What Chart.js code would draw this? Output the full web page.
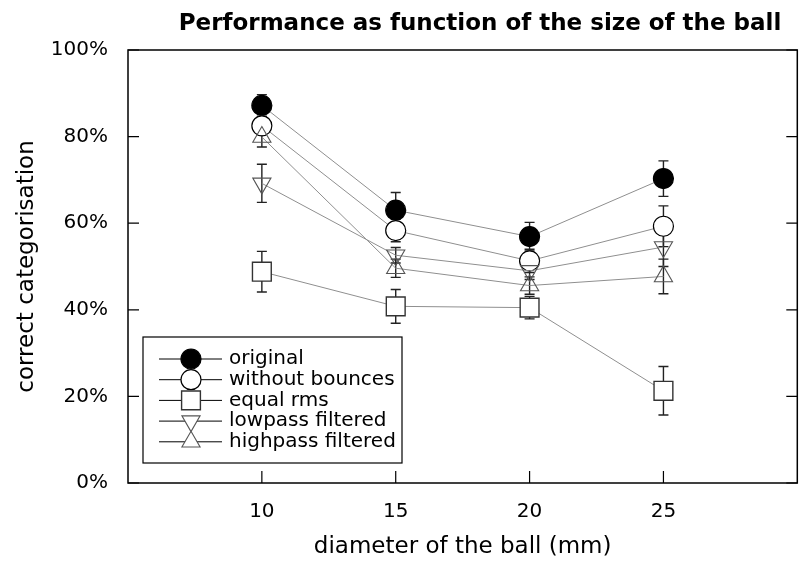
<!DOCTYPE html>
<html><head><meta charset="utf-8">
<script src="https://cdn.jsdelivr.net/npm/chart.js@4.4.0/dist/chart.umd.min.js"></script>
<style>
html,body{margin:0;padding:0;background:#fff;overflow:hidden;}
#wrap{width:800px;height:562px;overflow:hidden;position:relative;background:#fff;}
canvas{display:block;}
</style>
</head><body>
<div id="wrap"><canvas id="c" width="812" height="562"></canvas></div>
<script>
// ---- data ----
const diameters = [10, 15, 20, 25];
const xTickValues = [10, 15, 20, 25];
const yTickValues = [0, 20, 40, 60, 80, 100];
const seriesNames = ['original', 'without bounces', 'equal rms', 'lowpass filtered', 'highpass filtered'];
const original = [87.2, 63.0, 56.9, 70.3];
const originalErr = [2.5, 4.1, 3.3, 4.1];
const withoutBounces = [82.5, 58.3, 51.3, 59.3];
const withoutBouncesErr = [2.0, 2.6, 2.7, 4.7];
const equalRms = [48.8, 40.8, 40.5, 21.3];
const equalRmsErr = [4.7, 3.9, 2.6, 5.6];
const lowpass = [69.2, 52.6, 49.0, 54.5];
const lowpassErr = [4.4, 1.8, 2.0, 4.5];
const highpass = [79.9, 49.6, 45.6, 47.7];
const highpassErr = [2.3, 2.1, 2.0, 4.0];
const titleText = 'Performance as function of the size of the ball';
const xTitle = 'diameter of the ball (mm)';
const yTitle = 'correct categorisation';

const values = [original, withoutBounces, equalRms, lowpass, highpass];
const errors = [originalErr, withoutBouncesErr, equalRmsErr, lowpassErr, highpassErr];

// ---- styles ----
const FAM = '"DejaVu Sans", sans-serif';
const markerStyles = [
  {pointStyle: 'circle', radius: 10, fill: '#000', stroke: '#000', bw: 1.2, rot: 0},
  {pointStyle: 'circle', radius: 10, fill: '#fff', stroke: '#000', bw: 1.2, rot: 0},
  {pointStyle: 'rect', radius: 13.3, fill: '#fff', stroke: '#333', bw: 1.4, rot: 0},
  {pointStyle: 'triangle', radius: 10.5, fill: 'rgba(0,0,0,0)', stroke: '#555', bw: 1.1, rot: 180},
  {pointStyle: 'triangle', radius: 10.5, fill: 'rgba(0,0,0,0)', stroke: '#555', bw: 1.1, rot: 0}
];

const datasets = seriesNames.map((name, i) => ({
  label: name,
  data: diameters.map((d, j) => ({x: d, y: values[i][j]})),
  errs: errors[i],
  borderColor: '#8f8f8f',
  borderWidth: 1,
  tension: 0,
  fill: false,
  pointStyle: markerStyles[i].pointStyle,
  pointRadius: markerStyles[i].radius,
  pointHoverRadius: markerStyles[i].radius,
  pointBackgroundColor: markerStyles[i].fill,
  pointBorderColor: markerStyles[i].stroke,
  pointBorderWidth: markerStyles[i].bw,
  pointRotation: markerStyles[i].rot,
  order: seriesNames.length - 1 - i
}));

const errorBars = {
  id: 'errorBars',
  beforeDatasetsDraw(chart) {
    const ctx = chart.ctx, xs = chart.scales.x, ys = chart.scales.y;
    ctx.save();
    ctx.strokeStyle = '#222';
    ctx.lineWidth = 1.4;
    chart.data.datasets.forEach(ds => {
      ds.data.forEach((p, j) => {
        const e = ds.errs[j];
        const x = xs.getPixelForValue(p.x);
        const y1 = ys.getPixelForValue(p.y + e);
        const y2 = ys.getPixelForValue(p.y - e);
        ctx.beginPath();
        ctx.moveTo(x, y1); ctx.lineTo(x, y2);
        ctx.moveTo(x - 5, y1); ctx.lineTo(x + 5, y1);
        ctx.moveTo(x - 5, y2); ctx.lineTo(x + 5, y2);
        ctx.stroke();
      });
    });
    ctx.restore();
  }
};

const frame = {
  id: 'frame',
  afterDraw(chart) {
    const ctx = chart.ctx, a = chart.chartArea, xs = chart.scales.x, ys = chart.scales.y;
    ctx.save();
    ctx.strokeStyle = '#000';
    ctx.lineWidth = 1.5;
    ctx.strokeRect(a.left, a.top, a.right - a.left, a.bottom - a.top);
    ctx.lineWidth = 1.2;
    ctx.beginPath();
    yTickValues.forEach(v => {
      const y = ys.getPixelForValue(v);
      ctx.moveTo(a.left, y); ctx.lineTo(a.left + 11, y);
      ctx.moveTo(a.right, y); ctx.lineTo(a.right - 11, y);
    });
    xTickValues.forEach(v => {
      const x = xs.getPixelForValue(v);
      ctx.moveTo(x, a.bottom); ctx.lineTo(x, a.bottom - 12);
    });
    ctx.stroke();

    // title
    ctx.fillStyle = '#000';
    ctx.font = 'bold 23px ' + FAM;
    ctx.textAlign = 'center';
    ctx.textBaseline = 'alphabetic';
    ctx.fillText(titleText, 480, 30);

    // legend
    const bx = a.left + 15, by = a.top + 287, bw = 259, bh = 126;
    ctx.lineWidth = 1.2;
    ctx.strokeStyle = '#000';
    ctx.strokeRect(bx, by, bw, bh);
    ctx.font = '20px ' + FAM;
    ctx.textAlign = 'left';
    ctx.textBaseline = 'middle';
    chart.data.datasets.forEach((ds, i) => {
      const ry = by + 22 + i * 20.7;
      ctx.strokeStyle = '#000';
      ctx.lineWidth = 1;
      ctx.beginPath();
      ctx.moveTo(bx + 16, ry); ctx.lineTo(bx + 79, ry);
      ctx.stroke();
      const m = markerStyles[i];
      ctx.fillStyle = m.fill === 'rgba(0,0,0,0)' ? '#fff' : m.fill;
      ctx.strokeStyle = m.stroke;
      ctx.lineWidth = m.bw;
      Chart.helpers.drawPoint(ctx, {pointStyle: m.pointStyle, radius: m.radius, rotation: m.rot, borderWidth: m.bw}, bx + 48, ry);
      ctx.fillStyle = '#000';
      ctx.fillText(ds.label, bx + 86, ry);
    });
    ctx.restore();
  }
};

new Chart(document.getElementById('c'), {
  type: 'line',
  data: {datasets},
  options: {
    responsive: false,
    animation: false,
    layout: {padding: {left: 0, right: 2, top: 50, bottom: 0}},
    plugins: {legend: {display: false}, tooltip: {enabled: false}, title: {display: false}},
    scales: {
      x: {
        type: 'linear', min: 5, max: 30,
        afterBuildTicks: s => { s.ticks = xTickValues.map(v => ({value: v})); },
        afterFit: s => { s.height = 79; },
        grid: {display: false, drawTicks: false},
        border: {display: false},
        ticks: {padding: 17, color: '#000', font: {family: FAM, size: 20}, maxRotation: 0, autoSkip: false,
                callback: v => String(v)},
        title: {display: true, text: xTitle, color: '#000', font: {family: FAM, size: 23}, padding: {top: 0, bottom: 1}}
      },
      y: {
        type: 'linear', min: 0, max: 100,
        afterBuildTicks: s => { s.ticks = yTickValues.map(v => ({value: v})); },
        afterFit: s => { s.width = 128; },
        grid: {display: false, drawTicks: false},
        border: {display: false},
        ticks: {padding: 20, color: '#000', font: {family: FAM, size: 20}, callback: v => v + '%'},
        title: {display: true, text: yTitle, color: '#000', font: {family: FAM, size: 23}, padding: {top: 13, bottom: 0}}
      }
    }
  },
  plugins: [errorBars, frame]
});
</script>
</body></html>
